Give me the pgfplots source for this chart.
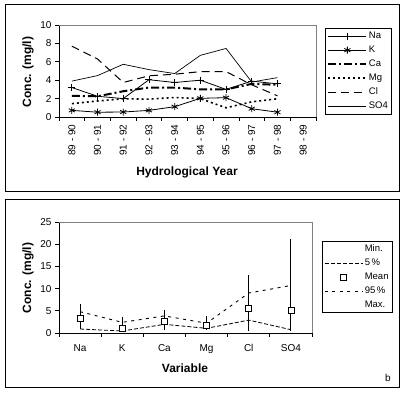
\documentclass[border=0pt]{standalone}
\usepackage{fontspec}
\setmainfont{Liberation Sans}
\usepackage{pgfplots}
\usepackage{pgfplotstable}
\pgfplotsset{compat=1.18}

\pgfplotstableread{
x Na K Ca Mg Cl SO4
1 3.20 0.72 2.30 1.45 7.70 3.90
2 2.25 0.52 2.25 1.74 6.30 4.50
3 2.00 0.54 2.80 1.98 3.75 5.73
4 4.05 0.72 3.20 1.94 4.48 5.15
5 3.75 1.12 3.20 2.12 4.65 4.72
6 4.00 2.03 3.00 2.00 4.93 6.70
7 3.00 2.10 3.00 1.00 4.93 7.45
8 3.90 0.90 3.60 1.65 3.50 3.80
9 3.60 0.52 3.50 1.98 2.30 4.28
}\topdata

\pgfplotstableread{
x min p5 mean p95 max
1 0.9 0.90 3.25 4.80 6.60
2 0.3 0.45 1.00 2.40 3.50
3 0.6 1.95 2.70 3.85 5.20
4 0.7 1.05 1.80 2.20 3.85
5 0.5 2.90 5.50 9.00 13.10
6 0.5 0.75 5.00 10.70 21.10
}\stats

\pgfplotsset{
  chemaxis/.style={
    scale only axis,
    axis x line*=bottom, axis y line*=left,
    axis line style={black, line width=0.8pt},
    tick align=outside,
    major tick length=4pt, minor tick length=4pt,
    tick style={black, line width=0.8pt},
    major x tick style={draw=none},
    ticklabel style={font=\fontsize{10}{12}\selectfont},
    /pgf/number format/assume math mode=true,
    clip=false,
    legend cell align=left,
    legend style={draw=black, line width=0.8pt, anchor=north west,
      font=\fontsize{9.5}{11}\selectfont, inner sep=2pt, row sep=2.5pt,
      nodes={inner sep=1.5pt, text height=7pt, text depth=1.5pt}},
    legend image code/.code={\draw[mark repeat=2, mark phase=2, #1]
      plot coordinates {(0pt,0pt) (19pt,0pt) (38pt,0pt)};},
  },
  emptyleg/.style={legend image code/.code={\path (0pt,0pt) -- (38pt,0pt);}},
}

\begin{document}
\begin{tikzpicture}
\path[use as bounding box] (0pt,0pt) rectangle (404pt,395pt);
\draw[line width=1pt] (5pt,203pt) rectangle (399pt,390pt);
\draw[line width=1pt] (5pt,7pt) rectangle (399pt,195pt);

% ---------- top panel ----------
\begin{axis}[chemaxis,
  at={(59pt,278pt)}, anchor=south west,
  width=257pt, height=92pt,
  xmin=0.5, xmax=10.5, ymin=0, ymax=10,
  xtick={1,...,10},
  xticklabels={89 - 90, 90 - 91, 91 - 92, 92 - 93, 93 - 94, 94 - 95, 95 - 96, 96 - 97, 97 - 98, 98 - 99},
  minor xtick={0.5,1.5,...,10.5},
  xticklabel style={rotate=90, anchor=east},
  ytick={0,2,...,10},
  xlabel={Hydrological Year},
  ylabel={Conc. (mg/l)},
  every axis x label/.style={at={(rel axis cs:0.498,-0.598)}, anchor=center, font=\fontsize{12}{14}\selectfont\bfseries},
  every axis y label/.style={at={(rel axis cs:-0.1206,0.49)}, anchor=center, rotate=90, font=\fontsize{12}{14}\selectfont\bfseries},
  legend style={at={(rel axis cs:1.035,0.967)}},
]
\draw[color=gray, line width=0.8pt] (rel axis cs:0,1) -- (rel axis cs:1,1) -- (rel axis cs:1,0);
\addplot[black, line width=0.8pt, mark=+, mark size=3.5pt, mark options={solid, line width=0.8pt}] table[x=x, y=Na] {\topdata};
\addlegendentry{Na}
\addplot[black, line width=0.8pt, mark=asterisk, mark size=3.5pt, mark options={solid, line width=0.8pt}] table[x=x, y=K] {\topdata};
\addlegendentry{K}
\addplot[black, line width=2pt, dash pattern=on 8pt off 3pt on 2pt off 3pt] table[x=x, y=Ca] {\topdata};
\addlegendentry{Ca}
\addplot[black, line width=1.6pt, dash pattern=on 2pt off 3pt] table[x=x, y=Mg] {\topdata};
\addlegendentry{Mg}
\addplot[black, line width=1pt, dash pattern=on 8pt off 5pt] table[x=x, y=Cl] {\topdata};
\addlegendentry{Cl}
\addplot[black, line width=0.7pt] table[x=x, y=SO4] {\topdata};
\addlegendentry{SO4}
\end{axis}

% ---------- bottom panel ----------
\begin{axis}[chemaxis,
  at={(59pt,62pt)}, anchor=south west,
  width=253pt, height=111pt,
  xmin=0.5, xmax=6.5, ymin=0, ymax=25,
  xtick={1,...,6},
  xticklabels={Na, K, Ca, Mg, Cl, SO4},
  minor xtick={0.5,1.5,...,6.5},
  xticklabel style={yshift=-4pt},
  ytick={0,5,...,25},
  xlabel={Variable},
  ylabel={Conc. (mg/l)},
  every axis x label/.style={at={(rel axis cs:0.498,-0.315)}, anchor=center, font=\fontsize{12}{14}\selectfont\bfseries},
  every axis y label/.style={at={(rel axis cs:-0.1225,0.495)}, anchor=center, rotate=90, font=\fontsize{12}{14}\selectfont\bfseries},
  legend style={at={(rel axis cs:1.0395,0.829)}},
]
\draw[color=gray, line width=0.8pt] (rel axis cs:0,1) -- (rel axis cs:1,1) -- (rel axis cs:1,0);
\addplot[forget plot, only marks, mark=none,
  error bars/.cd, y dir=both, y explicit, error mark=none,
  error bar style={draw=black, solid, line width=1pt}]
  table[x=x, y=mean,
    y error plus expr=\thisrow{max}-\thisrow{mean},
    y error minus expr=\thisrow{mean}-\thisrow{min}] {\stats};
\addplot[draw=none, mark=none, emptyleg] table[x=x, y=min] {\stats};
\addlegendentry{Min.}
\addplot[black, line width=0.8pt, dash pattern=on 4pt off 2pt] table[x=x, y=p5] {\stats};
\addlegendentry{5\,\%}
\addplot[only marks, mark=square*, mark size=3pt, mark options={draw=black, fill=white, line width=0.8pt, solid}] table[x=x, y=mean] {\stats};
\addlegendentry{Mean}
\addplot[black, line width=0.9pt, dash pattern=on 3pt off 4.5pt] table[x=x, y=p95] {\stats};
\addlegendentry{95\,\%}
\addplot[draw=none, mark=none, emptyleg] table[x=x, y=max] {\stats};
\addlegendentry{Max.}
\end{axis}

\node[font=\fontsize{10}{12}\selectfont] at (388pt,17pt) {b};
\end{tikzpicture}
\end{document}
